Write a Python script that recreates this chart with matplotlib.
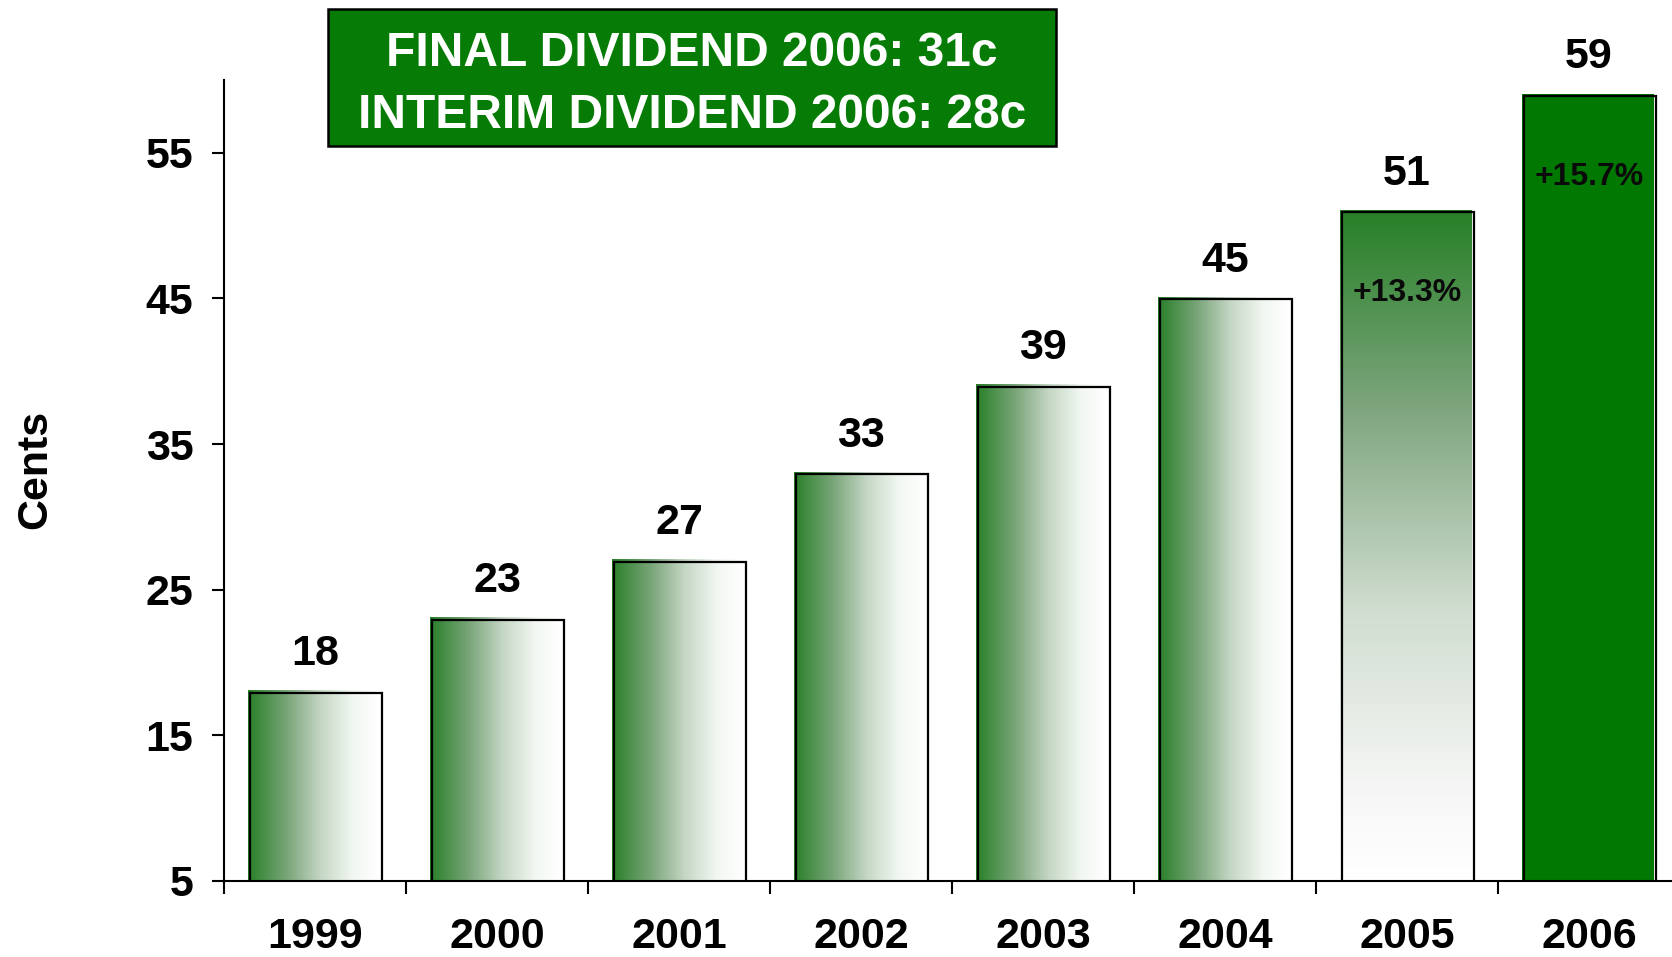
import matplotlib
matplotlib.use("Agg")
import matplotlib.pyplot as plt
import numpy as np
from matplotlib.colors import LinearSegmentedColormap
from matplotlib.patches import Rectangle
import matplotlib.transforms as mtransforms

years = ["1999", "2000", "2001", "2002", "2003", "2004", "2005", "2006"]
dividends = [18, 23, 27, 33, 39, 45, 51, 59]
growth_labels = {6: "+13.3%", 7: "+15.7%"}
yticks = [5, 15, 25, 35, 45, 55]
title_lines = ["FINAL DIVIDEND 2006: 31c", "INTERIM DIVIDEND 2006: 28c"]

plt.rcParams['font.family'] = ['Liberation Sans', 'DejaVu Sans']
plt.rcParams['font.weight'] = 'bold'

DPI = 100
fig = plt.figure(figsize=(16.72, 9.57), dpi=DPI)
ax = fig.add_axes([224/1672, 1 - 881/957, (1680 - 224)/1672, (881 - 80)/957])

base = 5
x = np.arange(len(years))
bars = ax.bar(x, np.array(dividends) - base, bottom=base, width=0.725,
              facecolor='none', edgecolor='none', zorder=2)

green_dark = (0.16, 0.50, 0.16)
hcmap = LinearSegmentedColormap.from_list(
    "hgrad", [(0.0, green_dark), (0.3, (0.48, 0.65, 0.48)),
              (0.55, (0.77, 0.84, 0.77)), (0.8, (0.95, 0.97, 0.95)), (1.0, (1, 1, 1))])
vcmap = LinearSegmentedColormap.from_list(
    "vgrad", [(0.0, (1, 1, 1)), (0.12, (0.97, 0.97, 0.97)), (0.4, (0.82, 0.87, 0.82)),
              (0.7, (0.50, 0.65, 0.50)), (1.0, (0.15, 0.50, 0.15))])

fill_shift = mtransforms.ScaledTranslation(-1 / DPI, 1 / DPI, fig.dpi_scale_trans)
edge_shift = mtransforms.ScaledTranslation(1 / DPI, -1 / DPI, fig.dpi_scale_trans)
for i, b in enumerate(bars):
    x0, y0, w, h = b.get_x(), b.get_y(), b.get_width(), b.get_height()
    ext = [x0, x0 + w, y0, y0 + h]
    if i < 6:
        grad = np.linspace(0, 1, 256).reshape(1, -1)
        im = ax.imshow(grad, cmap=hcmap, extent=ext, aspect='auto', zorder=2,
                       interpolation='bilinear')
        im.set_transform(ax.transData + fill_shift)
    elif i == 6:
        grad = np.linspace(0, 1, 256).reshape(-1, 1)
        im = ax.imshow(grad, cmap=vcmap, extent=ext, aspect='auto', zorder=2,
                       origin='lower', interpolation='bilinear')
        im.set_transform(ax.transData + fill_shift)
    else:
        ax.add_patch(Rectangle((x0, y0), w, h, facecolor='#017801',
                               edgecolor='none', zorder=2,
                               transform=ax.transData + fill_shift))
    ax.add_patch(Rectangle((x0, y0), w, h, facecolor='none', edgecolor='black',
                           lw=1.6, zorder=3, transform=ax.transData + edge_shift))
    ax.annotate(str(dividends[i]), (x0 + w / 2, y0 + h), xytext=(0, 19),
                textcoords='offset points', ha='center', va='baseline',
                fontsize=31, fontweight='bold', color='black', zorder=4)
    if i in growth_labels:
        ax.annotate(growth_labels[i], (x0 + w / 2, y0 + h), xytext=(0, -59),
                    textcoords='offset points', ha='center', va='center',
                    fontsize=23, fontweight='heavy', color='#0a0a0a', zorder=4)

ax.set_xlim(-0.5, len(years) - 0.5)
ax.set_ylim(5, 60)
ax.set_yticks(yticks)
ax.set_yticklabels([str(t) for t in yticks])
ax.set_xticks(np.arange(len(years) + 1) - 0.5)
ax.set_xticklabels([])
ax.set_xticks(x, minor=True)
ax.set_xticklabels(years, minor=True)
ax.tick_params(axis='x', which='major', direction='out', length=9, width=1.5)
ax.tick_params(axis='x', which='minor', length=0, pad=26, labelsize=31)
ax.tick_params(axis='y', direction='out', length=9, width=1.5, pad=13, labelsize=31)
for lab in ax.get_xticklabels(minor=True) + ax.get_yticklabels():
    lab.set_fontweight('bold')
ax.spines['top'].set_visible(False)
ax.spines['right'].set_visible(False)
ax.spines['left'].set_linewidth(1.5)
ax.spines['bottom'].set_linewidth(1.5)
ax.patch.set_visible(False)

fig.text(35/1672, 1 - 469/957, "Cents", rotation=90, ha='center', va='center',
         fontsize=31, fontweight='bold')

fig.patches.append(Rectangle((328/1672, 1 - 146/957), (1056 - 328)/1672, (146 - 8.5)/957,
                             transform=fig.transFigure, facecolor='#067c06',
                             edgecolor='black', lw=1.8, zorder=1))
fig.text(692/1672, 1 - 54/957, title_lines[0], ha='center', va='center',
         fontsize=34.5, fontweight='bold', color='white', zorder=2)
fig.text(692/1672, 1 - 115/957, title_lines[1], ha='center', va='center',
         fontsize=34.5, fontweight='bold', color='white', zorder=2)

fig.savefig("out.png", dpi=DPI)
